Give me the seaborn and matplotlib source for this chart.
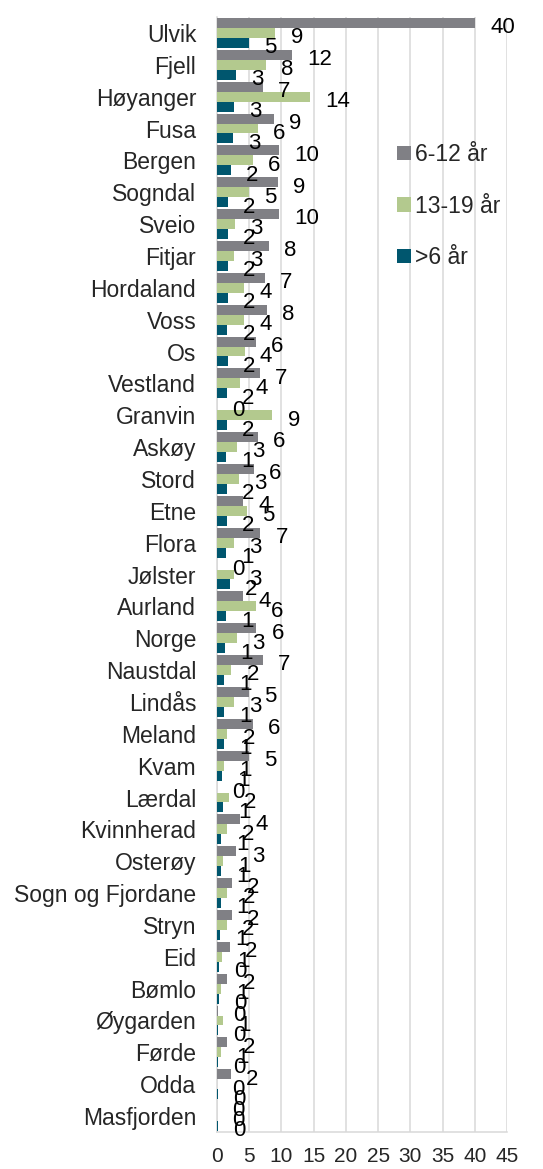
import numpy as np
import pandas as pd
import matplotlib
matplotlib.use("Agg")
import matplotlib.pyplot as plt
import seaborn as sns
from matplotlib.patches import Patch

# --- DATA ---
kommuner = ["Ulvik", "Fjell", "Høyanger", "Fusa", "Bergen", "Sogndal", "Sveio",
            "Fitjar", "Hordaland", "Voss", "Os", "Vestland", "Granvin", "Askøy",
            "Stord", "Etne", "Flora", "Jølster", "Aurland", "Norge", "Naustdal",
            "Lindås", "Meland", "Kvam", "Lærdal", "Kvinnherad", "Osterøy",
            "Sogn og Fjordane", "Stryn", "Eid", "Bømlo", "Øygarden", "Førde",
            "Odda", "Masfjorden"]

grupper = ["6-12 år", "13-19 år", ">6 år"]

verdi_6_12 = [40.0, 11.7, 7.1, 8.8, 9.6, 9.4, 9.6, 8.0, 7.4, 7.7, 6.0, 6.6, 0.0,
              6.3, 5.7, 4.0, 6.7, 0.0, 4.0, 6.1, 7.1, 4.9, 5.6, 4.9, 0.0, 3.6,
              3.0, 2.3, 2.3, 2.0, 1.6, 0.2, 1.6, 2.1, 0.0]
verdi_13_19 = [9.05, 7.6, 14.4, 6.3, 5.6, 4.9, 2.8, 2.7, 4.2, 4.2, 4.3, 3.6, 8.6,
               3.1, 3.4, 4.6, 2.6, 2.6, 6.0, 3.1, 2.2, 2.6, 1.6, 1.1, 1.8, 1.55,
               1.0, 1.6, 1.55, 0.8, 0.6, 0.9, 0.6, 0.05, 0.0]
verdi_under_6 = [5.0, 2.9, 2.65, 2.5, 2.1, 1.7, 1.7, 1.7, 1.7, 1.6, 1.7, 1.5, 1.5,
                 1.35, 1.5, 1.5, 1.35, 2.0, 1.35, 1.25, 1.15, 1.15, 1.1, 0.8, 1.0,
                 0.55, 0.55, 0.55, 0.5, 0.25, 0.25, 0.2, 0.2, 0.1, 0.1]

x_ticks = [0, 5, 10, 15, 20, 25, 30, 35, 40, 45]

farger = ["#808085", "#B3C98E", "#00566E"]

df = pd.DataFrame({
    "kommune": kommuner * 3,
    "gruppe": [g for g in grupper for _ in kommuner],
    "verdi": verdi_6_12 + verdi_13_19 + verdi_under_6,
})

# --- FIGUR ---
sns.set_style("white")
plt.rcParams["font.family"] = ["Liberation Sans", "DejaVu Sans"]

fig = plt.figure(figsize=(5.43, 11.69), dpi=100)
ax = fig.add_axes([217 / 543, 1 - 1132 / 1169, 290 / 543, (1132 - 17) / 1169])

sns.barplot(data=df, y="kommune", x="verdi", hue="gruppe", hue_order=grupper,
            order=kommuner, palette=farger, orient="h", width=0.94,
            saturation=1, linewidth=0, legend=False, ax=ax, zorder=3)

ax.set_xlim(0, 45)
ax.set_xticks(x_ticks)
ax.set_xlabel("")
ax.set_ylabel("")
ax.grid(axis="x", color="#D9D9D9", linewidth=1.1, zorder=0)
ax.grid(axis="y", visible=False)
ax.set_axisbelow(True)
for side in ["top", "right"]:
    ax.spines[side].set_visible(False)
for side in ["left", "bottom"]:
    ax.spines[side].set_color("#D9D9D9")
    ax.spines[side].set_linewidth(1.1)

ax.tick_params(axis="y", length=0, pad=15, labelsize=16.5)
ax.tick_params(axis="x", length=0, pad=11, labelsize=15)

# dataetiketter (avrundet, litt forskjøvet som i originalen)
for container in ax.containers:
    for rect in container:
        v = rect.get_width()
        ax.annotate(f"{int(np.floor(v + 0.5))}",
                    (v, rect.get_y() + rect.get_height() / 2),
                    xytext=(11, -3.5), textcoords="offset points",
                    ha="left", va="center", fontsize=16, color="black",
                    annotation_clip=False, zorder=5)

handles = [Patch(facecolor=c, edgecolor="none") for c in farger]
fig.legend(handles, grupper, loc="upper left",
           bbox_to_anchor=(397 / 543, 1 - 143 / 1169), frameon=False,
           fontsize=16.5, handlelength=0.6, handleheight=0.6,
           handletextpad=0.2, labelspacing=1.25, borderpad=0,
           borderaxespad=0)

fig.savefig("out.png", dpi=100)
